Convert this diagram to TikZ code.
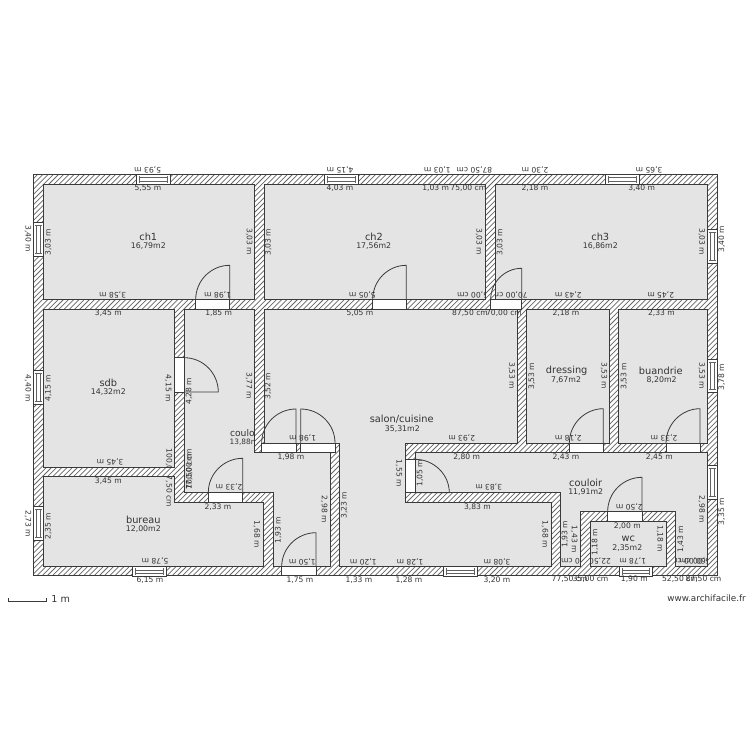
\documentclass[tikz,border=0pt]{standalone}
\usepackage{fontspec}
\setmainfont{DejaVu Sans}
\usetikzlibrary{calc}
\definecolor{roomfill}{HTML}{E4E4E4}
\definecolor{wallink}{HTML}{3A3A3A}
\definecolor{hatchink}{HTML}{666666}
\definecolor{labelink}{HTML}{333333}
\tikzset{
 x=1bp,y=-1bp,
 room/.style={fill=roomfill,draw=wallink,line width=.8bp,line join=miter},
 opening/.style={fill=white,draw=wallink,line width=.8bp},
 leaf/.style={draw=wallink,line width=.8bp},
 winline/.style={draw=wallink!80,line width=.5bp},
 lab/.style={font=\fontsize{7.6bp}{8bp}\selectfont,text=labelink,inner sep=0pt},
 rmname/.style={font=\fontsize{9.8bp}{11bp}\selectfont,text=labelink,inner sep=0pt},
 rmarea/.style={font=\fontsize{7.8bp}{8bp}\selectfont,text=labelink,inner sep=0pt},
}
% dimension labels
\newcommand{\lbH}[3]{\node[lab] at (#1,#2) {#3};}
\newcommand{\lbU}[3]{\node[lab,rotate=180] at (#1,#2) {#3};}
\newcommand{\lbA}[3]{\node[lab,rotate=90] at (#1,#2) {#3};}
\newcommand{\lbD}[3]{\node[lab,rotate=-90] at (#1,#2) {#3};}
% windows
\newcommand{\winH}[3]{% x1 x2 y1 (height 9.5)
 \draw[opening] (#1,#3) rectangle (#2,#3+9.5);
 \draw[winline] (#1+3,#3+3.2) rectangle (#2-3,#3+6.3);
 \draw[winline] (#1+3,#3+1.5) -- (#1+3,#3+8);
 \draw[winline] (#2-3,#3+1.5) -- (#2-3,#3+8);
}
\newcommand{\winV}[3]{% y1 y2 x1
 \draw[opening] (#3,#1) rectangle (#3+9.7,#2);
 \draw[winline] (#3+3.2,#1+3) rectangle (#3+6.5,#2-3);
 \draw[winline] (#3+1.5,#1+3) -- (#3+8.2,#1+3);
 \draw[winline] (#3+1.5,#2-3) -- (#3+8.2,#2-3);
}
% door: opening rectangle x1 y1 x2 y2, leaf from hinge (hx,hy) to tip (tx,ty), arc tip to (ex,ey) with corner (cx,cy)
\newcommand{\doorway}[4]{\draw[opening] (#1,#2) rectangle (#3,#4);}
\newcommand{\swing}[8]{%
 \draw[leaf] (#1,#2) -- (#3,#4)
  .. controls ($(#3,#4)!.55!(#7,#8)$) and ($(#5,#6)!.55!(#7,#8)$) .. (#5,#6);
}
\begin{document}
\begin{tikzpicture}
\useasboundingbox (0,0) rectangle (750,750);
\fill[white] (0,0) rectangle (750,750);
% wall mass with hatching
\begin{scope}
 \clip (33.5,174.5) rectangle (717,575.7);
 \foreach \c in {0,...,215}{
  \draw[hatchink,line width=.75bp] ({33+5.2*\c},174) -- ({33+5.2*\c-402},576);
 }
\end{scope}
\draw[wallink,line width=.9bp] (33.5,174.5) rectangle (717,575.7);
% rooms
\path[room] (43.3,184) rectangle (254.3,299.4);
\path[room] (264.3,184) rectangle (485,299.4);
\path[room] (495,184) rectangle (707.7,299.4);
\path[room] (43.3,309.3) rectangle (174.3,467.7);
\path[room] (526.7,309.3) rectangle (609.3,443.3);
\path[room] (618.7,309.3) rectangle (707.7,443.3);
\path[room] (43.3,476.7) -- (174.3,476.7) -- (174.3,502.5) -- (263.3,502.5) -- (263.3,566.7) -- (43.3,566.7) -- cycle;
\path[room] (184.3,309.3) -- (254.3,309.3) -- (254.3,452.7) -- (330,452.7) -- (330,566.7) -- (273.3,566.7) -- (273.3,492.5) -- (184.3,492.5) -- cycle;
\path[room] (264.3,309.3) -- (517.3,309.3) -- (517.3,442.9) -- (405,442.9) -- (405,502.7) -- (551.7,502.7) -- (551.7,566.7) -- (339.3,566.7) -- (339.3,442.9) -- (264.3,442.9) -- cycle;
\path[room] (415,452.7) -- (707.7,452.7) -- (707.7,566.7) -- (675.7,566.7) -- (675.7,511.3) -- (580.7,511.3) -- (580.7,566.7) -- (560.7,566.7) -- (560.7,492.7) -- (415,492.7) -- cycle;
\path[room] (590.7,521.3) rectangle (666.7,566.7);
% windows
\winH{136}{170.3}{174.5}
\winH{324.3}{358.7}{174.5}
\winH{605.7}{639.7}{174.5}
\winH{132.7}{166.7}{566.7}
\winH{443.7}{477.7}{566.7}
\winH{619}{652.7}{566.7}
\winV{222.3}{256.3}{33.5}
\winV{370}{404.3}{33.5}
\winV{506.7}{540.7}{33.5}
\winV{229}{263.3}{707.5}
\winV{359}{392.7}{707.5}
\winV{465.7}{499.3}{707.5}
% doors
\doorway{195.7}{299.4}{229.7}{309.3}
\swing{229.7}{299.4}{229.7}{265.3}{195.7}{299.4}{195.7}{265.3}
\doorway{372.7}{299.4}{406.3}{309.3}
\swing{406.3}{299.4}{406.3}{265.3}{372.7}{299.4}{372.7}{265.3}
\doorway{490.7}{299.4}{521.7}{309.3}
\swing{521.7}{299.4}{521.7}{268.3}{490.7}{299.4}{490.7}{268.3}
\doorway{174.3}{357.7}{184.3}{392}
\swing{184.3}{392}{218.3}{392}{184.3}{357.7}{218.3}{357.7}
\doorway{208.3}{492.5}{242.7}{502.5}
\swing{242.7}{492.5}{242.7}{458.3}{208.3}{492.5}{208.3}{458.3}
\doorway{281.7}{566.7}{316}{575.7}
\swing{316}{566.7}{316}{532.7}{281.7}{566.7}{281.7}{532.7}
\doorway{261.7}{442.9}{296}{452.7}
\swing{296}{442.9}{296}{409}{261.7}{442.9}{261.7}{409}
\doorway{300.7}{442.9}{335}{452.7}
\swing{300.7}{442.9}{300.7}{409}{335}{442.9}{335}{409}
\doorway{405}{459.3}{415}{492.7}
\swing{415}{492.7}{449.3}{492.7}{415}{459.3}{449.3}{459.3}
\doorway{569.3}{443.3}{603.3}{452.7}
\swing{603.3}{443.3}{603.3}{408.7}{569.3}{443.3}{569.3}{408.7}
\doorway{666}{443.3}{700}{452.7}
\swing{700}{443.3}{700}{408.7}{666}{443.3}{666}{408.7}
\doorway{607.7}{511.3}{642}{521.3}
\swing{642}{511.3}{642}{477.3}{607.7}{511.3}{607.7}{477.3}
% room names
\node[rmname] at (148.3,236.7) {ch1};
\node[rmarea] at (148.3,245.7) {16,79m2};
\node[rmname] at (374,236.7) {ch2};
\node[rmarea] at (373.7,245.7) {17,56m2};
\node[rmname] at (600.3,236.7) {ch3};
\node[rmarea] at (600.3,245.7) {16,86m2};
\node[rmname] at (108.3,383.3) {sdb};
\node[rmarea] at (108.3,392.3) {14,32m2};
\node[rmname] at (143.3,520) {bureau};
\node[rmarea] at (143.3,529.3) {12,00m2};
\node[rmname] at (401.7,419.3) {salon/cuisine};
\node[rmarea] at (402.3,428.7) {35,31m2};
\node[rmname] at (566.7,370.7) {dressing};
\node[rmarea] at (566,380) {7,67m2};
\node[rmname] at (660.7,370.7) {buandrie};
\node[rmarea] at (661.7,380) {8,20m2};
\node[rmname] at (585.7,482.7) {couloir};
\node[rmarea] at (585.7,492.3) {11,91m2};
\node[rmname] at (628.3,539.3) {wc};
\node[rmarea] at (627.3,547.7) {2,35m2};
\begin{scope}
 \clip (184.3,400) rectangle (254.3,460);
 \node[rmname,anchor=west,font=\fontsize{9.2bp}{11bp}\selectfont] at (229.8,433.3) {couloir};
 \node[rmarea,anchor=west,font=\fontsize{7.4bp}{8bp}\selectfont] at (229.5,442.3) {13,88m2};
\end{scope}
% dimensions: horizontal, upside down
\lbU{147.7}{170}{5,93 m}
\lbU{340}{170}{4,15 m}
\lbU{437.3}{170}{1,03 m}
\lbU{474.3}{170}{87,50 cm}
\lbU{535}{170}{2,30 m}
\lbU{649}{170}{3,65 m}
\lbU{112.7}{294.7}{3,58 m}
\lbU{217.7}{294.7}{1,98 m}
\lbU{362.3}{294.7}{5,05 m}
\lbU{568.3}{294.7}{2,43 m}
\lbU{660.7}{294.7}{2,45 m}
\lbU{110}{462.3}{3,45 m}
\lbU{229}{487.3}{2,33 m}
\lbU{155}{561.3}{5,78 m}
\lbU{302.7}{437.7}{1,98 m}
\lbU{461.7}{437.7}{2,93 m}
\lbU{488.7}{487.3}{3,83 m}
\lbU{302.3}{561.7}{1,50 m}
\lbU{363.3}{561.7}{1,20 m}
\lbU{410}{561.7}{1,28 m}
\lbU{497}{561.7}{3,08 m}
\lbU{568.3}{438}{2,18 m}
\lbU{664}{438}{2,33 m}
\lbU{629.3}{506.7}{2,50 m}
\lbU{632.7}{561}{1,78 m}
% dimensions: horizontal
\lbH{148}{188.3}{5,55 m}
\lbH{340}{188.3}{4,03 m}
\lbH{435.7}{188.3}{1,03 m}
\lbH{535}{188.3}{2,18 m}
\lbH{641.7}{188.3}{3,40 m}
\lbH{108.3}{313.3}{3,45 m}
\lbH{218.7}{313.3}{1,85 m}
\lbH{360}{313.3}{5,05 m}
\lbH{470}{313.3}{87,50 cm}
\lbH{504}{313.3}{70,00 cm}
\lbH{566}{313.3}{2,18 m}
\lbH{661.5}{313.3}{2,33 m}
\lbH{108.3}{480.7}{3,45 m}
\lbH{218}{506.7}{2,33 m}
\lbH{150}{579.7}{6,15 m}
\lbH{291}{457.3}{1,98 m}
\lbH{466.7}{457.3}{2,80 m}
\lbH{477.5}{506.7}{3,83 m}
\lbH{300}{580}{1,75 m}
\lbH{359}{580}{1,33 m}
\lbH{409}{580}{1,28 m}
\lbH{497}{580}{3,20 m}
\lbH{566}{457.3}{2,43 m}
\lbH{659.3}{457.3}{2,45 m}
\lbH{627.3}{525.7}{2,00 m}
\lbH{569.6}{579.5}{77,50 cm}
\lbH{590.5}{579.5}{35,00 cm}
\lbH{634.3}{579.5}{1,90 m}
\lbH{680}{579.5}{52,50 cm}
\lbH{703.5}{579.5}{87,50 cm}
% dimensions: vertical, reading upwards
\lbA{48.3}{242}{3,03 m}
\lbA{268.3}{242}{3,03 m}
\lbA{500}{242}{3,03 m}
\lbA{721.7}{239.3}{3,40 m}
\lbA{48.3}{388.3}{4,15 m}
\lbA{189}{391}{4,28 m}
\lbA{268}{386}{3,52 m}
\lbA{531.7}{376}{3,53 m}
\lbA{624}{376}{3,53 m}
\lbA{721.7}{377.3}{3,78 m}
\lbA{48.3}{526}{2,35 m}
\lbA{344.3}{505}{3,23 m}
\lbA{420}{473.3}{1,05 m}
\lbA{278.3}{530}{1,93 m}
\lbA{565}{534}{1,93 m}
\lbA{595}{542.3}{1,18 m}
\lbA{680.7}{539}{1,43 m}
\lbA{721.7}{511.7}{3,35 m}
\lbA{189.3}{469}{100,00 cm}
\lbA{189.3}{472}{77,50 cm}
% dimensions: vertical, reading downwards
\lbD{28}{238.7}{3,40 m}
\lbD{249.3}{242}{3,03 m}
\lbD{479}{242}{3,03 m}
\lbD{701.7}{242}{3,03 m}
\lbD{28}{388.3}{4,40 m}
\lbD{168.3}{388.3}{4,15 m}
\lbD{249}{386}{3,77 m}
\lbD{511.7}{376}{3,53 m}
\lbD{604}{376}{3,53 m}
\lbD{701.7}{376}{3,53 m}
\lbD{28}{524}{2,73 m}
\lbD{256.7}{534.3}{1,68 m}
\lbD{399}{473.3}{1,55 m}
\lbD{324.3}{509.3}{2,98 m}
\lbD{545}{534.3}{1,68 m}
\lbD{574.3}{539.3}{1,43 m}
\lbD{660}{539}{1,18 m}
\lbD{701.7}{509.3}{2,98 m}
% labels that walls cut off
\begin{scope}
 \clip (264.3,184) rectangle (485,299.4);
 \lbH{468.3}{188.3}{75,00 cm}
 \lbU{475}{294.7}{75,00 cm}
\end{scope}
\begin{scope}
 \clip (495,184) rectangle (707.7,299.4);
 \lbU{509.7}{294.7}{70,00 cm}
\end{scope}
\begin{scope}
 \clip (43.3,440) rectangle (174.3,467.7);
 \lbD{169}{469}{100,00 cm}
\end{scope}
\begin{scope}
 \clip (43.3,476.7) rectangle (174.3,510);
 \lbD{169}{489}{87,50 cm}
\end{scope}
\begin{scope}
 \clip (560.7,550) rectangle (580.7,566.7);
 \lbU{579}{561}{22,50 cm}
\end{scope}
\begin{scope}
 \clip (590.7,550) rectangle (666.7,566.7);
 \lbU{593}{561}{22,50 cm}
\end{scope}
\begin{scope}
 \clip (675.7,550) rectangle (707.7,566.7);
 \lbU{688}{561}{60,00 cm}
 \lbU{697}{561}{45,00 cm}
\end{scope}
% scale bar and site name
\coordinate (scaleL) at (8,601.7);
\coordinate (scaleR) at (46,601.7);
\draw[wallink,line width=.8bp] ($(scaleL)+(0,-3.5)$) -- (scaleL) -- (scaleR) -- ($(scaleR)+(0,-3.5)$);
\node[rmname,font=\fontsize{9.6bp}{10bp}\selectfont] at (60.7,599.3) {1 m};
\node[rmname,font=\fontsize{8.8bp}{10bp}\selectfont,anchor=east] at (746,598) {www.archifacile.fr};
\end{tikzpicture}
\end{document}
